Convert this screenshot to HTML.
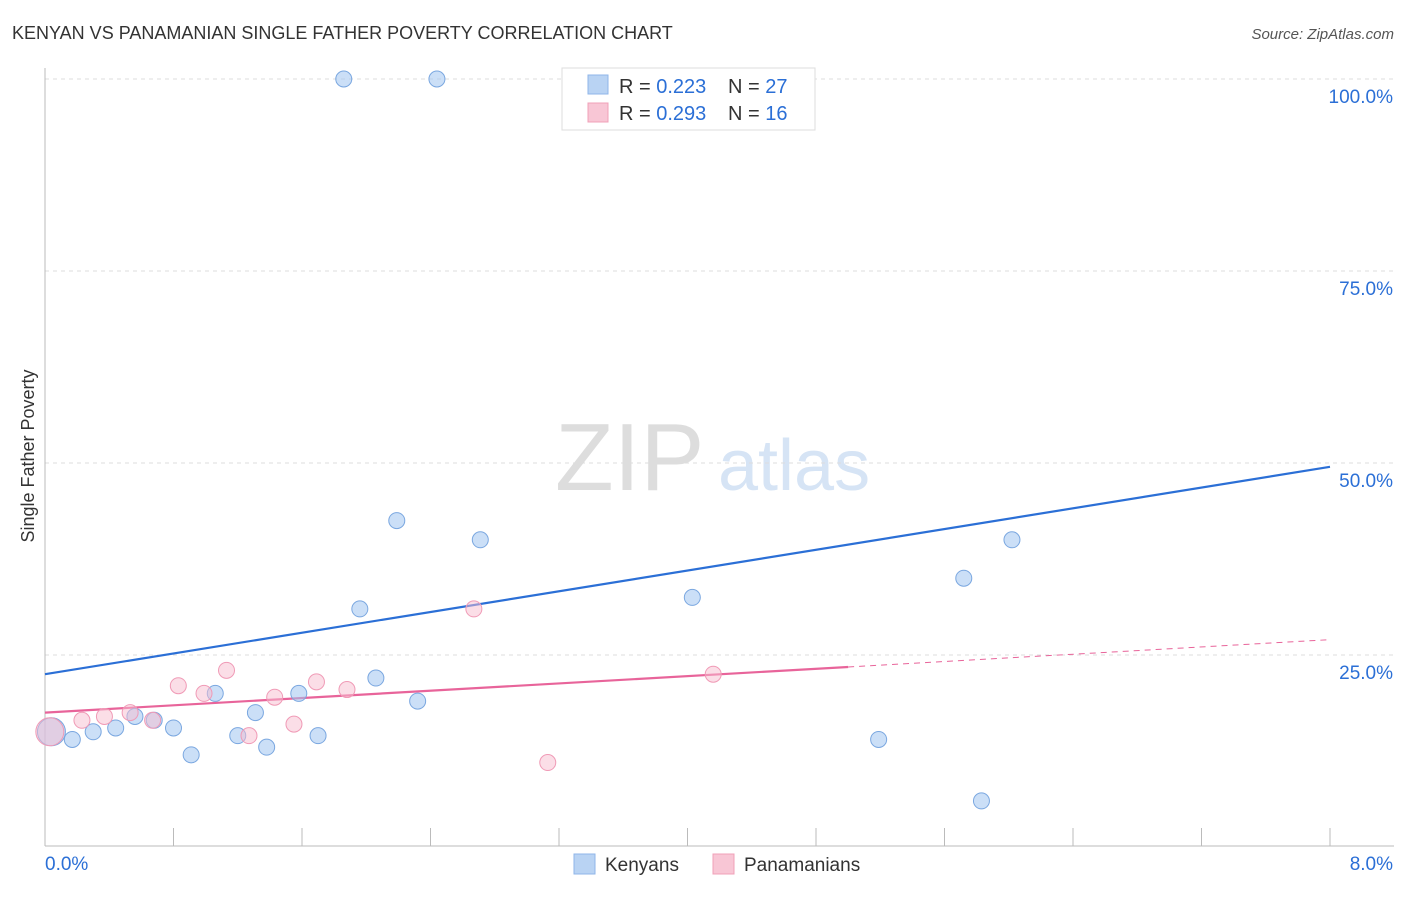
<!DOCTYPE html>
<html><head><meta charset="utf-8"><style>
body{margin:0;background:#fff;font-family:"Liberation Sans",sans-serif;}
svg text{font-family:"Liberation Sans",sans-serif;}
</style></head><body>
<svg id="chart" width="1406" height="892">
<text x="12" y="39" font-size="18" fill="#333">KENYAN VS PANAMANIAN SINGLE FATHER POVERTY CORRELATION CHART</text>
<text x="1394" y="39" font-size="15" fill="#555" font-style="italic" text-anchor="end">Source: ZipAtlas.com</text>
<text x="34" y="456" font-size="18" fill="#333" transform="rotate(-90 34 456)" text-anchor="middle">Single Father Poverty</text>
<text x="555" y="490" font-size="96" fill="#ddd" font-family="Liberation Serif">ZIP</text>
<text x="718" y="490" font-size="72" fill="#d6e4f5">atlas</text>
<g id="grid"></g><g id="axes"></g><g id="lines"></g><g id="pts"></g>
<g>
<rect x="562" y="68" width="253" height="62" fill="#fff" stroke="#ddd"/>
<rect x="588" y="75" width="20" height="19" fill="#b9d3f3" stroke="#8fb6e8"/>
<rect x="588" y="103" width="20" height="19" fill="#f8c6d5" stroke="#f0a0b8"/>
<text x="619" y="93" font-size="20" fill="#333">R = <tspan fill="#2b6fd6">0.223</tspan><tspan x="728">N = </tspan><tspan fill="#2b6fd6">27</tspan></text>
<text x="619" y="120" font-size="20" fill="#333">R = <tspan fill="#2b6fd6">0.293</tspan><tspan x="728">N = </tspan><tspan fill="#2b6fd6">16</tspan></text>
</g>
<g>
<rect x="574" y="854" width="21" height="20" fill="#b9d3f3" stroke="#8fb6e8"/>
<text x="605" y="871" font-size="19" fill="#333">Kenyans</text>
<rect x="713" y="854" width="21" height="20" fill="#f8c6d5" stroke="#f0a0b8"/>
<text x="744" y="871" font-size="19" fill="#333">Panamanians</text>
</g>
</svg>
<script>
const yTicks=[25,50,75,100];
const xTickLabels=["0.0%","8.0%"];
const kenX=[0.04,0.17,0.30,0.44,0.56,0.68,0.80,0.91,1.06,1.20,1.31,1.38,1.58,1.70,1.86,1.96,2.06,2.19,2.32,2.44,2.71,3.41,4.03,5.19,5.72,5.83,6.02];
const kenY=[15,14,15,15.5,17,16.5,15.5,12,20,14.5,17.5,13,20,14.5,100,31,22,42.5,19,100,40,100,32.5,14,35,6,40];
const panX=[0.03,0.23,0.37,0.53,0.67,0.83,0.99,1.13,1.27,1.43,1.55,1.69,1.88,2.67,3.13,4.16];
const panY=[15,16.5,17,17.5,16.5,21,20,23,14.5,19.5,16,21.5,20.5,31,11,22.5];
const kenTrend=[22.5,49.5];
const panTrend=[17.5,27];
const X=v=>45+v/8*1285, Y=v=>847-v/100*768;
const NS="http://www.w3.org/2000/svg";
function mk(p,t,a){const e=document.createElementNS(NS,t);for(const k in a)e.setAttribute(k,a[k]);document.getElementById(p).appendChild(e);return e;}
yTicks.forEach(t=>{
 const l=mk('grid','line',{x1:45,x2:1394,y1:Y(t),y2:Y(t),stroke:'#ddd','stroke-dasharray':'4,4'});
 
 
 const tx=mk('grid','text',{x:1393,y:Y(t)+24,'text-anchor':'end','font-size':19,fill:'#2b6fd6'});
 tx.textContent=t.toFixed(1)+'%';
 
 
});
let a=mk('axes','line',{x1:45,x2:45,y1:68,y2:846,stroke:'#bbb'});


a=mk('axes','line',{x1:45,x2:1394,y1:846,y2:846,stroke:'#bbb'});


for(let i=1;i<=10;i++){const t=mk('axes','line',{x1:X(i*0.8),x2:X(i*0.8),y1:828,y2:846,stroke:'#bbb'});
 
 }
[[0,45,'start'],[1,1393,'end']].forEach(([i,x,an])=>{const t=mk('axes','text',{x:x,y:870,'text-anchor':an,'font-size':19,fill:'#2b6fd6'});t.textContent=xTickLabels[i];
 
 });
let ln=mk('lines','line',{x1:X(0),y1:Y(kenTrend[0]),x2:X(8),y2:Y(kenTrend[1]),stroke:'#2b6fd6','stroke-width':2.2});


const pm=v=>panTrend[0]+(panTrend[1]-panTrend[0])*v/8;
ln=mk('lines','line',{x1:X(0),y1:Y(pm(0)),x2:X(5),y2:Y(pm(5)),stroke:'#e8649a','stroke-width':2.2});


ln=mk('lines','line',{x1:X(5),y1:Y(pm(5)),x2:X(8),y2:Y(pm(8)),stroke:'#e8649a','stroke-width':1,'stroke-dasharray':'6,5'});


kenX.forEach((x,i)=>{const c=mk('pts','circle',{cx:X(x),cy:Y(kenY[i]),r:i==0?14:8,fill:'rgba(160,196,240,0.55)',stroke:'#7aa7e0','stroke-width':1});
 
 });
panX.forEach((x,i)=>{const c=mk('pts','circle',{cx:X(x),cy:Y(panY[i]),r:i==0?14:8,fill:'rgba(248,190,208,0.5)',stroke:'#f09ab6','stroke-width':1});
 
 });
</script>
</body></html>
